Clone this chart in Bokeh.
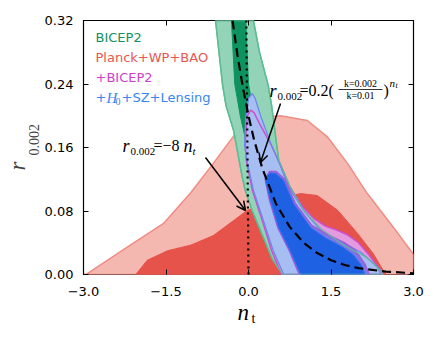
from bokeh.plotting import figure
from bokeh.models import Range1d, FixedTicker, LinearAxis, Label, Arrow, OpenHead, Title
from bokeh.embed import file_html
from bokeh.resources import INLINE

# ---------------- data ----------------
x_ticks = [-3.0, -1.5, 0.0, 1.5, 3.0]
x_tick_labels = ["\u22123.0", "\u22121.5", "0.0", "1.5", "3.0"]
y_ticks = [0.00, 0.08, 0.16, 0.24, 0.32]
y_tick_labels = ["0.00", "0.08", "0.16", "0.24", "0.32"]

# Planck+WP+BAO, 95% and 68% regions
planck95_nt = [-3.0, -2.93, -2.15, -1.55, -1.05, -0.64, -0.2, 0.04, 0.3, 0.58, 1.07, 1.44, 1.8, 2.16, 2.64, 2.95, 3.0, 3.0]
planck95_r = [0.0, 0.001, 0.037, 0.064, 0.103, 0.140, 0.181, 0.190, 0.198, 0.200, 0.194, 0.173, 0.140, 0.102, 0.059, 0.030, 0.025, 0.0]
planck68_nt = [-2.05, -1.84, -1.47, -1.05, -0.64, -0.27, -0.02, 0.35, 0.64, 0.95, 1.25, 1.62, 1.98, 2.27, 2.45, 2.5]
planck68_r = [0.0, 0.018, 0.030, 0.037, 0.049, 0.068, 0.081, 0.089, 0.097, 0.102, 0.0995, 0.081, 0.052, 0.026, 0.005, 0.0]

# BICEP2 band, 95% and 68%
bicep95_nt = [-0.6, -0.47, -0.41, -0.27, -0.12, -0.06, 0.07, 0.25, 0.43, 0.62,
              2.45, 2.4, 2.16, 1.73, 1.31, 1.0, 0.76, 0.55, 0.5, 0.42, 0.36, 0.2, 0.09]
bicep95_r = [0.32, 0.238, 0.213, 0.181, 0.125, 0.106, 0.08, 0.05, 0.02, 0.0,
             0.0, 0.005, 0.021, 0.037, 0.058, 0.081, 0.11, 0.144, 0.17, 0.213, 0.238, 0.28, 0.32]
bicep68_nt = [-0.31, -0.25, -0.15, -0.02, 0.2, 0.5, 1.0, 1.5, 1.8,
              2.2, 2.0, 1.5, 1.0, 0.6, 0.3, 0.1, 0.0, -0.05]
bicep68_r = [0.32, 0.24, 0.2, 0.16, 0.11, 0.07, 0.035, 0.012, 0.0,
             0.0, 0.015, 0.04, 0.07, 0.11, 0.15, 0.2, 0.24, 0.32]

# Planck+WP+BAO+BICEP2 (magenta), 95% and 68%
mag95_nt = [0.04, -0.02, -0.06, -0.04, 0.07, 0.25, 0.42, 0.6,
            2.45, 2.36, 2.2, 2.0, 1.8, 1.6, 1.4, 1.2, 1.0, 0.73, 0.58, 0.4, 0.2, 0.1]
mag95_r = [0.207, 0.2, 0.165, 0.144, 0.106, 0.068, 0.03, 0.0,
           0.0, 0.009, 0.024, 0.04, 0.05, 0.056, 0.061, 0.07, 0.084, 0.112, 0.138, 0.165, 0.19, 0.204]
mag68_nt = [0.38, 0.3, 0.38, 0.53, 0.74, 0.92,
            2.2, 2.12, 1.95, 1.75, 1.45, 1.15, 0.85, 0.66, 0.5]
mag68_r = [0.13, 0.12, 0.093, 0.059, 0.03, 0.0,
           0.0, 0.013, 0.03, 0.04, 0.05, 0.062, 0.09, 0.12, 0.13]

# +H0+SZ+Lensing (blue), 95% and 68%
blue95_nt = [0.07, 0.0, -0.05, -0.07, -0.03, 0.09, 0.27, 0.45, 0.64,
             2.4, 2.35, 2.04, 1.73, 1.36, 1.0, 0.73, 0.58, 0.4, 0.22, 0.12]
blue95_r = [0.228, 0.222, 0.197, 0.163, 0.144, 0.106, 0.068, 0.030, 0.0,
            0.0, 0.009, 0.028, 0.040, 0.052, 0.081, 0.110, 0.137, 0.166, 0.2, 0.222]
blue68_nt = [0.4, 0.33, 0.31, 0.4, 0.55, 0.76, 0.95,
             2.12, 2.05, 1.9, 1.7, 1.4, 1.13, 0.82, 0.64, 0.5]
blue68_r = [0.128, 0.124, 0.118, 0.093, 0.059, 0.03, 0.0,
            0.0, 0.012, 0.025, 0.035, 0.046, 0.059, 0.089, 0.118, 0.127]

# r_0.002 = 0.2 (0.002/0.01)^n_t (dashed) and r_0.002 = -8 n_t (dotted)
dash_nt = [-0.29, -0.2, -0.1, 0.0, 0.1, 0.25, 0.5, 0.75, 1.0, 1.25, 1.5, 1.75, 2.0, 2.5, 3.0]
dash_r = [0.32, 0.276, 0.235, 0.200, 0.170, 0.134, 0.089, 0.060, 0.040, 0.027, 0.018, 0.012, 0.008, 0.0036, 0.0016]
dot_nt = [0.0, -0.04]
dot_r = [0.0, 0.32]

# ---------------- figure ----------------
p = figure(width=430, height=331, x_range=Range1d(-3, 3), y_range=Range1d(0, 0.32),
           output_backend="svg", toolbar_location=None,
           min_border_left=83, min_border_right=17, min_border_top=20, min_border_bottom=57)
p.xgrid.visible = False
p.ygrid.visible = False
p.outline_line_color = "black"
p.outline_line_width = 1.2
p.background_fill_color = "white"
p.border_fill_color = "white"

SERIF = "Liberation Serif"


def style_axis(ax, standoff):
    ax.axis_line_color = None
    ax.major_tick_in = 5
    ax.major_tick_out = 0
    ax.major_tick_line_color = "black"
    ax.major_tick_line_width = 1
    ax.minor_tick_line_color = None
    ax.major_label_text_font = "DejaVu Sans"
    ax.major_label_text_font_size = "13px"
    ax.major_label_text_color = "black"
    ax.major_label_standoff = standoff


p.xaxis.ticker = FixedTicker(ticks=x_ticks)
p.xaxis.major_label_overrides = dict(zip(x_ticks, x_tick_labels))
p.yaxis.ticker = FixedTicker(ticks=y_ticks)
p.yaxis.major_label_overrides = dict(zip(y_ticks, y_tick_labels))
style_axis(p.xaxis[0], 12)
style_axis(p.yaxis[0], 10)

top_ax = LinearAxis(ticker=FixedTicker(ticks=x_ticks),
                    major_label_overrides={t: "" for t in x_ticks})
style_axis(top_ax, 0)
p.add_layout(top_ax, "above")
right_ax = LinearAxis(ticker=FixedTicker(ticks=y_ticks),
                      major_label_overrides={t: "" for t in y_ticks})
style_axis(right_ax, 0)
p.add_layout(right_ax, "right")

# y-axis title: italic r with an upright subscript
p.add_layout(Title(text="0.002", text_font=SERIF, text_font_style="normal", text_font_size="14px",
                   align="left", offset=119, standoff=5), "left")
p.add_layout(Title(text="r", text_font=SERIF, text_font_style="italic", text_font_size="23px",
                   align="left", offset=104, standoff=-10), "left")

# ---------------- regions ----------------
p.patch(planck95_nt, planck95_r, fill_color="#f5b8b1", line_color="#ef8c83", line_width=1.5)
p.patch(planck68_nt, planck68_r, fill_color="#e5534a", line_color="#e5534a", line_width=1)
p.patch(bicep95_nt, bicep95_r, fill_color="#93d4b8", line_color="#5cbd95", line_width=1.5)
p.patch(bicep68_nt, bicep68_r, fill_color="#0e935f", line_color="#0e935f", line_width=1)
p.patch(mag95_nt, mag95_r, fill_color="#e39ade", line_color=None)
p.patch(blue95_nt, blue95_r, fill_color="#a6bef2", line_color=None)
p.patch(mag95_nt, mag95_r, fill_color=None, line_color="#cc4fd0", line_width=1.5)
p.patch(blue95_nt, blue95_r, fill_color=None, line_color="#6d88ea", line_width=1.3)
p.patch(mag68_nt, mag68_r, fill_color="#7f73e6", line_color="#a457d6", line_width=1.2)
p.patch(blue68_nt, blue68_r, fill_color="#1e62e3", line_color="#2a6ff0", line_width=1)
p.patch(bicep95_nt, bicep95_r, fill_color=None, line_color="#5cbd95", line_width=1.3, line_alpha=0.8)

p.line(dash_nt, dash_r, line_color="black", line_width=2.2, line_dash="9 5")
p.line(dot_nt, dot_r, line_color="black", line_width=2.2, line_dash="2 4")


# ---------------- annotations ----------------
def px2d(xp, yp):
    return (xp - 83) / 55.0 - 3.0, (274 - yp) * 0.32 / 254.0


def lab(text, xp, yp, size, color="black", font="DejaVu Sans", style="normal",
        align="left", place="center"):
    x, y = px2d(xp, yp)
    lbl = Label(x=x, y=y, text=text, text_font_size=f"{size}px", text_color=color,
                text_font=font, text_font_style=style, text_align=align,
                text_baseline="middle")
    if place == "center":
        p.add_layout(lbl)
    else:
        p.add_layout(lbl, place)


# legend (coloured text)
lab("BICEP2", 95, 37, 13, color="#12925e")
lab("Planck+WP+BAO", 95, 57, 13, color="#e8564e")
lab("+BICEP2", 95, 77, 13, color="#d040d0")
lab("+", 95, 97, 13, color="#3a86f0")
lab("H", 106, 97, 15, color="#3a86f0", font=SERIF, style="italic")
lab("0", 115, 101, 10, color="#3a86f0", font=SERIF)
lab("+SZ+Lensing", 121, 97, 13, color="#3a86f0")

# r = 0.2 (k=0.002 / k=0.01)^n_t
lab("r", 269, 90, 18, font=SERIF, style="italic")
lab("0.002", 277, 96, 11, font=SERIF)
lab("=0.2(", 299, 90, 16, font=SERIF)
lab("k=0.002", 360, 83, 10, font=SERIF, align="center")
lab("k=0.01", 360, 95, 10, font=SERIF, align="center")
lab(")", 383, 90, 16, font=SERIF)
lab("n", 389, 82, 11, font=SERIF, style="italic")
lab("t", 395, 85, 8, font=SERIF, style="italic")
bx0, by0 = px2d(338, 89)
bx1, by1 = px2d(382, 89)
p.add_layout(Arrow(start=None, end=None, x_start=bx0, y_start=by0, x_end=bx1, y_end=by1,
                   line_color="black", line_width=0.8))

# r = -8 n_t
lab("r", 122, 145, 18, font=SERIF, style="italic")
lab("0.002", 130, 151, 11, font=SERIF)
lab("=\u22128", 153, 145, 16, font=SERIF)
lab("n", 183, 145, 18, font=SERIF, style="italic")
lab("t", 192, 150, 11, font=SERIF, style="italic")

# arrows
ax0, ay0 = px2d(280, 103)
ax1, ay1 = px2d(260, 162)
p.add_layout(Arrow(end=OpenHead(size=9, line_width=1.5, line_color="black"),
                   x_start=ax0, y_start=ay0, x_end=ax1, y_end=ay1,
                   line_color="black", line_width=1.5))
ax0, ay0 = px2d(205, 157)
ax1, ay1 = px2d(245, 210)
p.add_layout(Arrow(end=OpenHead(size=9, line_width=1.5, line_color="black"),
                   x_start=ax0, y_start=ay0, x_end=ax1, y_end=ay1,
                   line_color="black", line_width=1.5))

# x-axis title (held by a side panel so that it is not clipped to the frame)
lab("n", 237, 312, 23, font=SERIF, style="italic", place="right")
lab("t", 251, 318, 14, font=SERIF, place="right")

open("out.html", "w").write(file_html(p, INLINE))
